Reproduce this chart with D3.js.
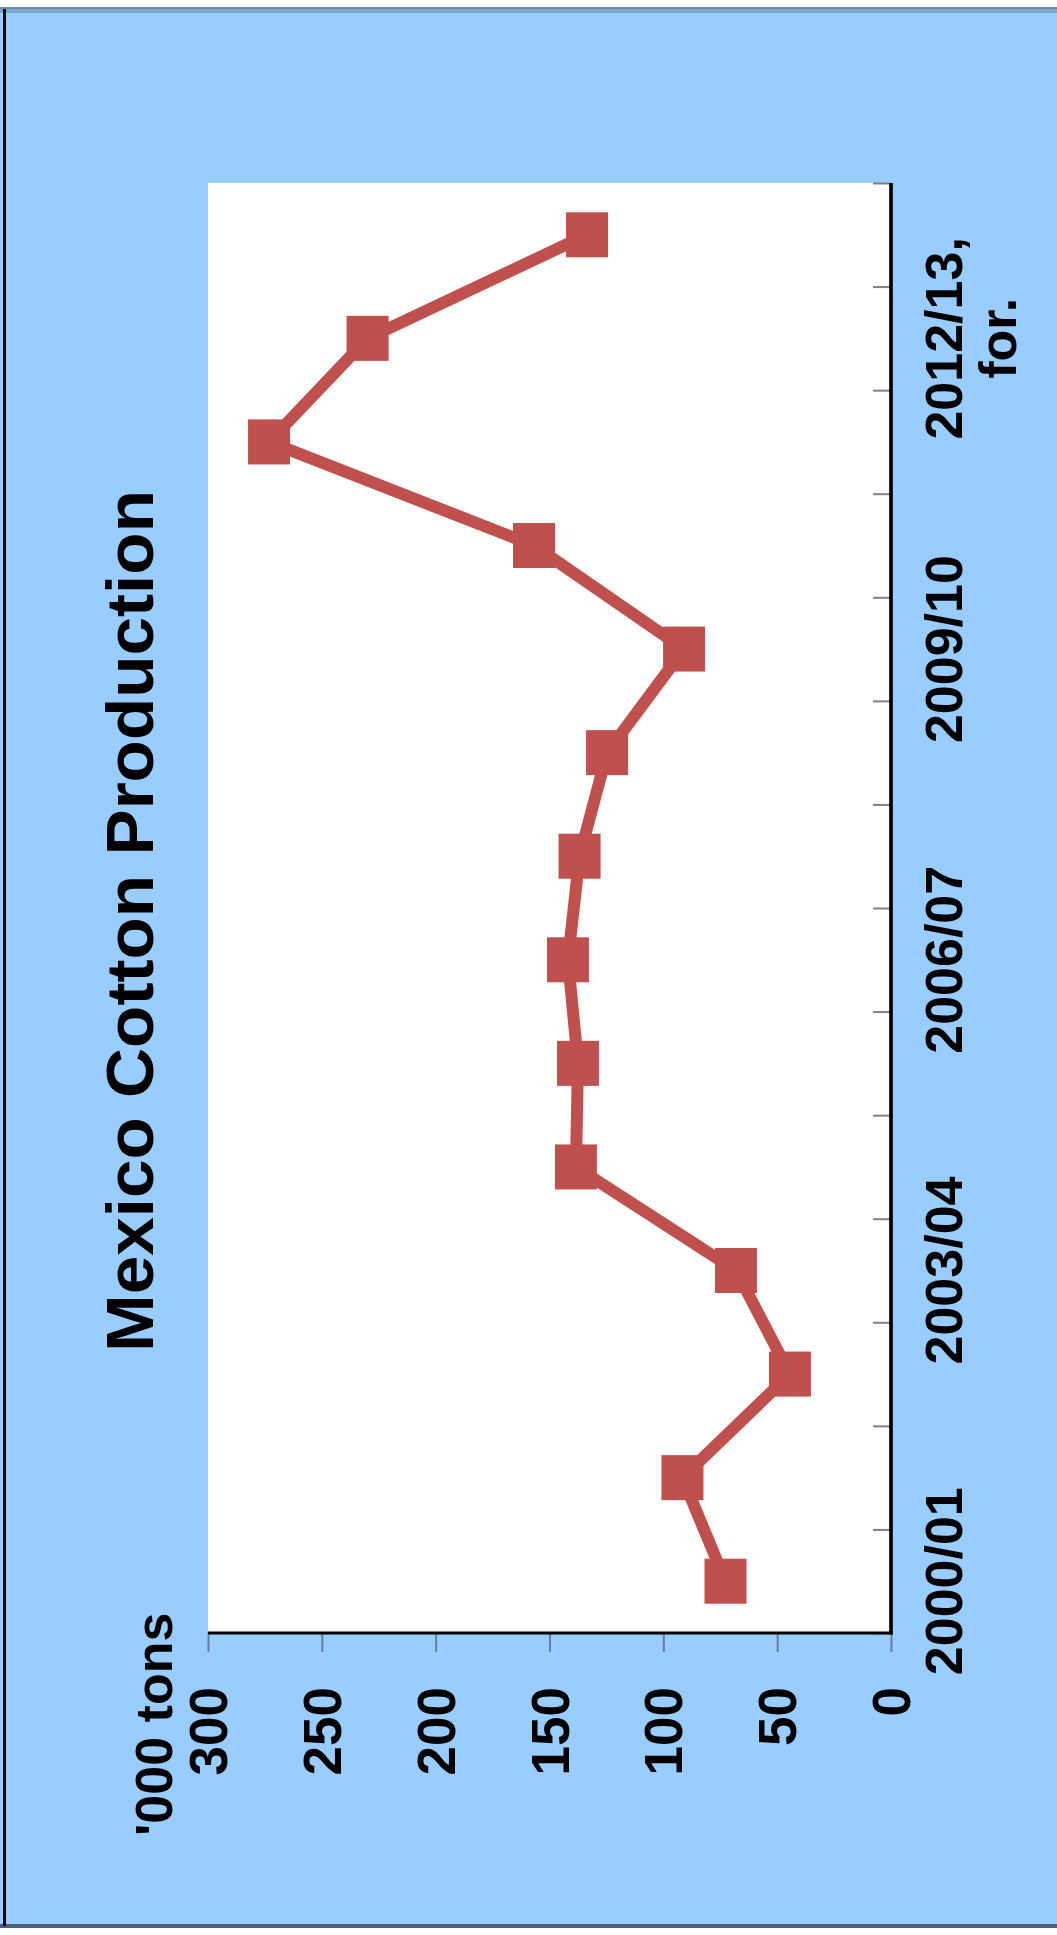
<!DOCTYPE html>
<html><head><meta charset="utf-8">
<script src="https://cdn.jsdelivr.net/npm/d3@7"></script>
<style>html,body{margin:0;padding:0;background:#fff;} svg{display:block}</style>
</head><body>
<svg id="chart" width="1057" height="1935"></svg>
<script>
const title = "Mexico Cotton Production";
const unitLabel = "'000 tons";
const categories = ["2000/01","2001/02","2002/03","2003/04","2004/05","2005/06","2006/07","2007/08","2008/09","2009/10","2010/11","2011/12","2012/13, for.","2013/14"];
const production = [72.7, 91.6, 44.4, 68.1, 138.4, 137.5, 141.9, 136.8, 124.7, 90.9, 156.8, 273.2, 229.9, 133.5];
const labeledCategories = ["2000/01","2003/04","2006/07","2009/10","2012/13, for."];
const valueTicks = [0, 50, 100, 150, 200, 250, 300];

const FONT = "'Liberation Sans', Arial, sans-serif";
const RED = "#c0504d";
const svg = d3.select("#chart");
const W = 1057, H = 1935;
const plot = {left: 208, right: 891, top: 183, bottom: 1633};

// frame
svg.append("rect").attr("x", 0).attr("y", 0).attr("width", W).attr("height", H).attr("fill", "#fff");
svg.append("rect").attr("x", 0).attr("y", 7).attr("width", W).attr("height", 1921).attr("fill", "#99ccff");
svg.append("rect").attr("x", 0).attr("y", 7).attr("width", W).attr("height", 6).attr("fill", "#7da4ca");
svg.append("rect").attr("x", 0).attr("y", 7).attr("width", W).attr("height", 2).attr("fill", "#6a8aa8");
svg.append("rect").attr("x", 0).attr("y", 1924).attr("width", W).attr("height", 4).attr("fill", "#4a6078");
svg.append("rect").attr("x", 3).attr("y", 9).attr("width", 3).attr("height", 1917).attr("fill", "#000");

// plot area
svg.append("rect").attr("x", plot.left).attr("y", plot.top)
  .attr("width", plot.right - plot.left).attr("height", plot.bottom - plot.top).attr("fill", "#fff");

// scales (chart is rotated: values run right-to-left, categories bottom-to-top)
const x = d3.scaleLinear().domain([0, 300]).range([plot.right, plot.left]);
const y = d3.scaleBand().domain(categories).range([plot.bottom, plot.top]).padding(0);
const yIdx = d3.scaleLinear().domain([0, categories.length]).range([plot.bottom, plot.top]);

// category tick marks (between categories, inside plot)
const catTicks = svg.append("g").attr("transform", `translate(${plot.right},0)`)
  .call(d3.axisLeft(yIdx).tickValues(d3.range(categories.length + 1)).tickSize(18).tickFormat(""));
catTicks.select(".domain").remove();
catTicks.selectAll("line").attr("stroke", "#808080").attr("stroke-width", 2);

// value axis (bottom)
const valAxis = svg.append("g").attr("transform", `translate(0,${plot.bottom})`)
  .call(d3.axisBottom(x).tickValues(valueTicks).tickSize(19).tickFormat(d3.format("d")));
valAxis.select(".domain").remove();
valAxis.selectAll("line").attr("stroke", "#667f99").attr("stroke-width", 2);
valAxis.selectAll("text")
  .attr("transform", "rotate(-90)")
  .attr("x", -54).attr("y", 0).attr("dy", "0.35em")
  .attr("text-anchor", "end")
  .attr("font-family", FONT).attr("font-size", 53).attr("font-weight", "bold")
  .attr("fill", "#000");

// category labels (right)
const catAxis = svg.append("g").attr("transform", `translate(${plot.right},0)`)
  .call(d3.axisRight(y).tickValues(labeledCategories).tickSize(0));
catAxis.select(".domain").remove();
catAxis.selectAll("line").remove();
catAxis.selectAll("text").each(function(d) {
  const t = d3.select(this);
  t.text(null)
    .attr("transform", "rotate(-90)")
    .attr("x", 0).attr("y", 0).attr("dy", null)
    .attr("text-anchor", "middle")
    .attr("font-family", FONT).attr("font-size", 52).attr("font-weight", "bold")
    .attr("fill", "#000");
  d.split(" ").forEach((line, i) => {
    t.append("tspan").attr("x", 0).attr("y", 71 + i * 54).text(line);
  });
});

// axis lines
svg.append("line").attr("x1", plot.right).attr("x2", plot.right)
  .attr("y1", plot.top).attr("y2", plot.bottom + 1.5).attr("stroke", "#000").attr("stroke-width", 3.7);
svg.append("line").attr("x1", plot.left).attr("x2", plot.right + 1.8)
  .attr("y1", plot.bottom).attr("y2", plot.bottom).attr("stroke", "#000").attr("stroke-width", 2.8);

// data
const pts = categories.map((c, i) => ({c, v: production[i]}));
const line = d3.line().x(d => x(d.v)).y(d => y(d.c) + y.bandwidth() / 2);
svg.append("path").datum(pts).attr("d", line)
  .attr("fill", "none").attr("stroke", RED).attr("stroke-width", 12).attr("stroke-linejoin", "round");
svg.append("g").selectAll("rect").data(pts).join("rect")
  .attr("x", d => x(d.v) - 21).attr("y", d => y(d.c) + y.bandwidth() / 2 - 22.5)
  .attr("width", 42).attr("height", 45).attr("fill", RED);

// title
svg.append("text").attr("transform", "translate(153,921) rotate(-90)")
  .attr("text-anchor", "middle")
  .attr("font-family", FONT).attr("font-size", 66).attr("font-weight", "bold")
  .attr("textLength", 862).attr("lengthAdjust", "spacingAndGlyphs")
  .attr("fill", "#000").text(title);

// unit label
svg.append("text").attr("transform", "translate(172,1836) rotate(-90)")
  .attr("text-anchor", "start")
  .attr("font-family", FONT).attr("font-size", 52).attr("font-weight", "bold")
  .attr("fill", "#000").text(unitLabel);
</script>
</body></html>
